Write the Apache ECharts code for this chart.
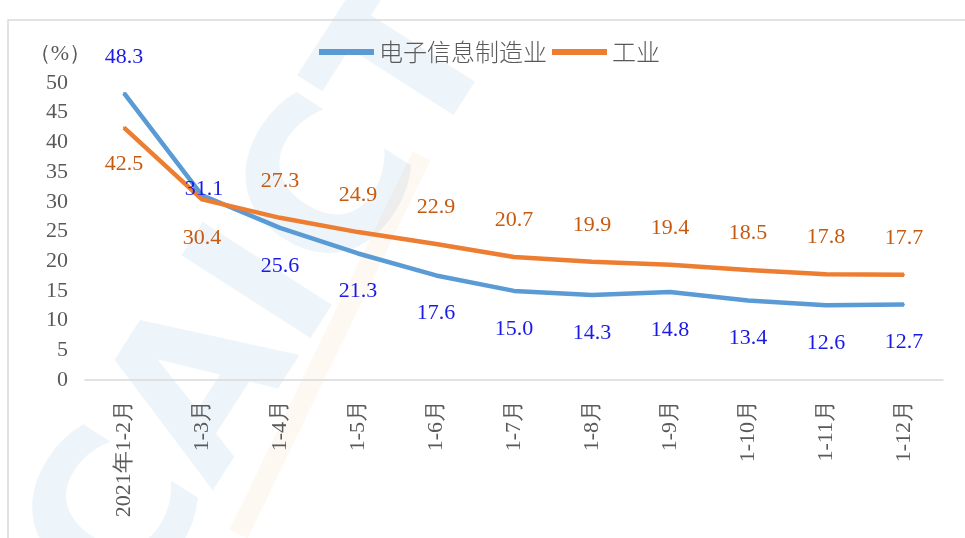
<!DOCTYPE html>
<html>
<head>
<meta charset="utf-8">
<script src="https://cdn.jsdelivr.net/npm/echarts@6/dist/echarts.min.js"></script>
<style>
  html, body { margin: 0; padding: 0; background: #fff; }
  #chart { width: 965px; height: 538px; }
</style>
</head>
<body>
<div id="chart"></div>
<script>
const categories = ['2021年1-2月', '1-3月', '1-4月', '1-5月', '1-6月', '1-7月', '1-8月', '1-9月', '1-10月', '1-11月', '1-12月'];
const electronics = [48.3, 31.1, 25.6, 21.3, 17.6, 15.0, 14.3, 14.8, 13.4, 12.6, 12.7];
const industry = [42.5, 30.4, 27.3, 24.9, 22.9, 20.7, 19.9, 19.4, 18.5, 17.8, 17.7];
const seriesNames = ['电子信息制造业', '工业'];

const serif = '"Liberation Serif", "Times New Roman", serif';
const axisGray = '#595959';

// a few labels sit on the other side of the line in the original
const electronicsLabelAt = { 0: { position: 'top', distance: 24 }, 1: { position: 'inside', offset: [2, -6] } };
const industryLabelAt = { 0: { position: 'bottom', distance: 25 }, 1: { position: 'bottom', distance: 27 } };

function withLabels(values, overrides) {
  return values.map((v, i) => overrides[i] ? { value: v, label: overrides[i] } : v);
}

const chart = echarts.init(document.getElementById('chart'));

chart.setOption({
  animation: false,
  backgroundColor: '#fff',
  graphic: [
    {
      // faint CAICT watermark running up to the right
      type: 'text',
      z: -10,
      x: 270,
      y: 300,
      rotation: 1.0,
      style: {
        text: 'CAICT',
        font: 'bold 210px "DejaVu Sans", sans-serif',
        fill: 'rgba(91,155,213,0.11)',
        align: 'center',
        verticalAlign: 'middle'
      }
    },
    {
      type: 'rect',
      z: -10,
      x: 330,
      y: 345,
      rotation: 1.12,
      shape: { x: -210, y: -10, width: 420, height: 20 },
      style: { fill: 'rgba(247,170,90,0.08)' }
    },
    {
      type: 'rect',
      z: -9,
      shape: { x: 8, y: 20, width: 1000, height: 600 },
      style: { fill: 'none', stroke: '#d9d9d9', lineWidth: 1.5 }
    }
  ],
  legend: {
    top: 35,
    left: 314,
    itemWidth: 55,
    itemHeight: 6,
    itemGap: 5,
    icon: 'rect',
    textStyle: { fontSize: 24, color: axisGray, fontFamily: '"Noto Sans CJK SC", sans-serif', fontWeight: 300 },
    data: seriesNames
  },
  grid: { left: 85, right: 22, top: 83, bottom: 158 },
  xAxis: {
    type: 'category',
    data: categories,
    boundaryGap: true,
    axisLine: { lineStyle: { color: '#d9d9d9', width: 1.5 } },
    axisTick: { show: false },
    axisLabel: {
      rotate: 90,
      interval: 0,
      margin: 20,
      fontSize: 22,
      color: axisGray,
      fontFamily: serif
    }
  },
  yAxis: {
    type: 'value',
    min: 0,
    max: 50,
    interval: 5,
    name: '（%）',
    nameLocation: 'end',
    nameGap: 18,
    nameTextStyle: { fontSize: 22, color: axisGray, fontFamily: serif, align: 'right', padding: [0, -6, 0, 0] },
    splitLine: { show: false },
    axisLine: { show: false },
    axisTick: { show: false },
    axisLabel: { fontSize: 22, color: axisGray, fontFamily: serif, margin: 17 }
  },
  series: [
    {
      name: seriesNames[0],
      type: 'line',
      data: withLabels(electronics, electronicsLabelAt),
      symbol: 'circle',
      symbolSize: 2,
      color: '#5b9bd5',
      lineStyle: { width: 4.5, color: '#5b9bd5' },
      label: {
        show: true,
        position: 'bottom',
        distance: 26,
        fontSize: 22,
        color: '#1a1ae6',
        fontFamily: serif,
        formatter: p => Number(p.value).toFixed(1)
      }
    },
    {
      name: seriesNames[1],
      type: 'line',
      data: withLabels(industry, industryLabelAt),
      symbol: 'circle',
      symbolSize: 2,
      color: '#ed7d31',
      lineStyle: { width: 4.5, color: '#ed7d31' },
      label: {
        show: true,
        position: 'top',
        distance: 25,
        fontSize: 22,
        color: '#c55a11',
        fontFamily: serif,
        formatter: p => Number(p.value).toFixed(1)
      }
    }
  ]
});
</script>
</body>
</html>
